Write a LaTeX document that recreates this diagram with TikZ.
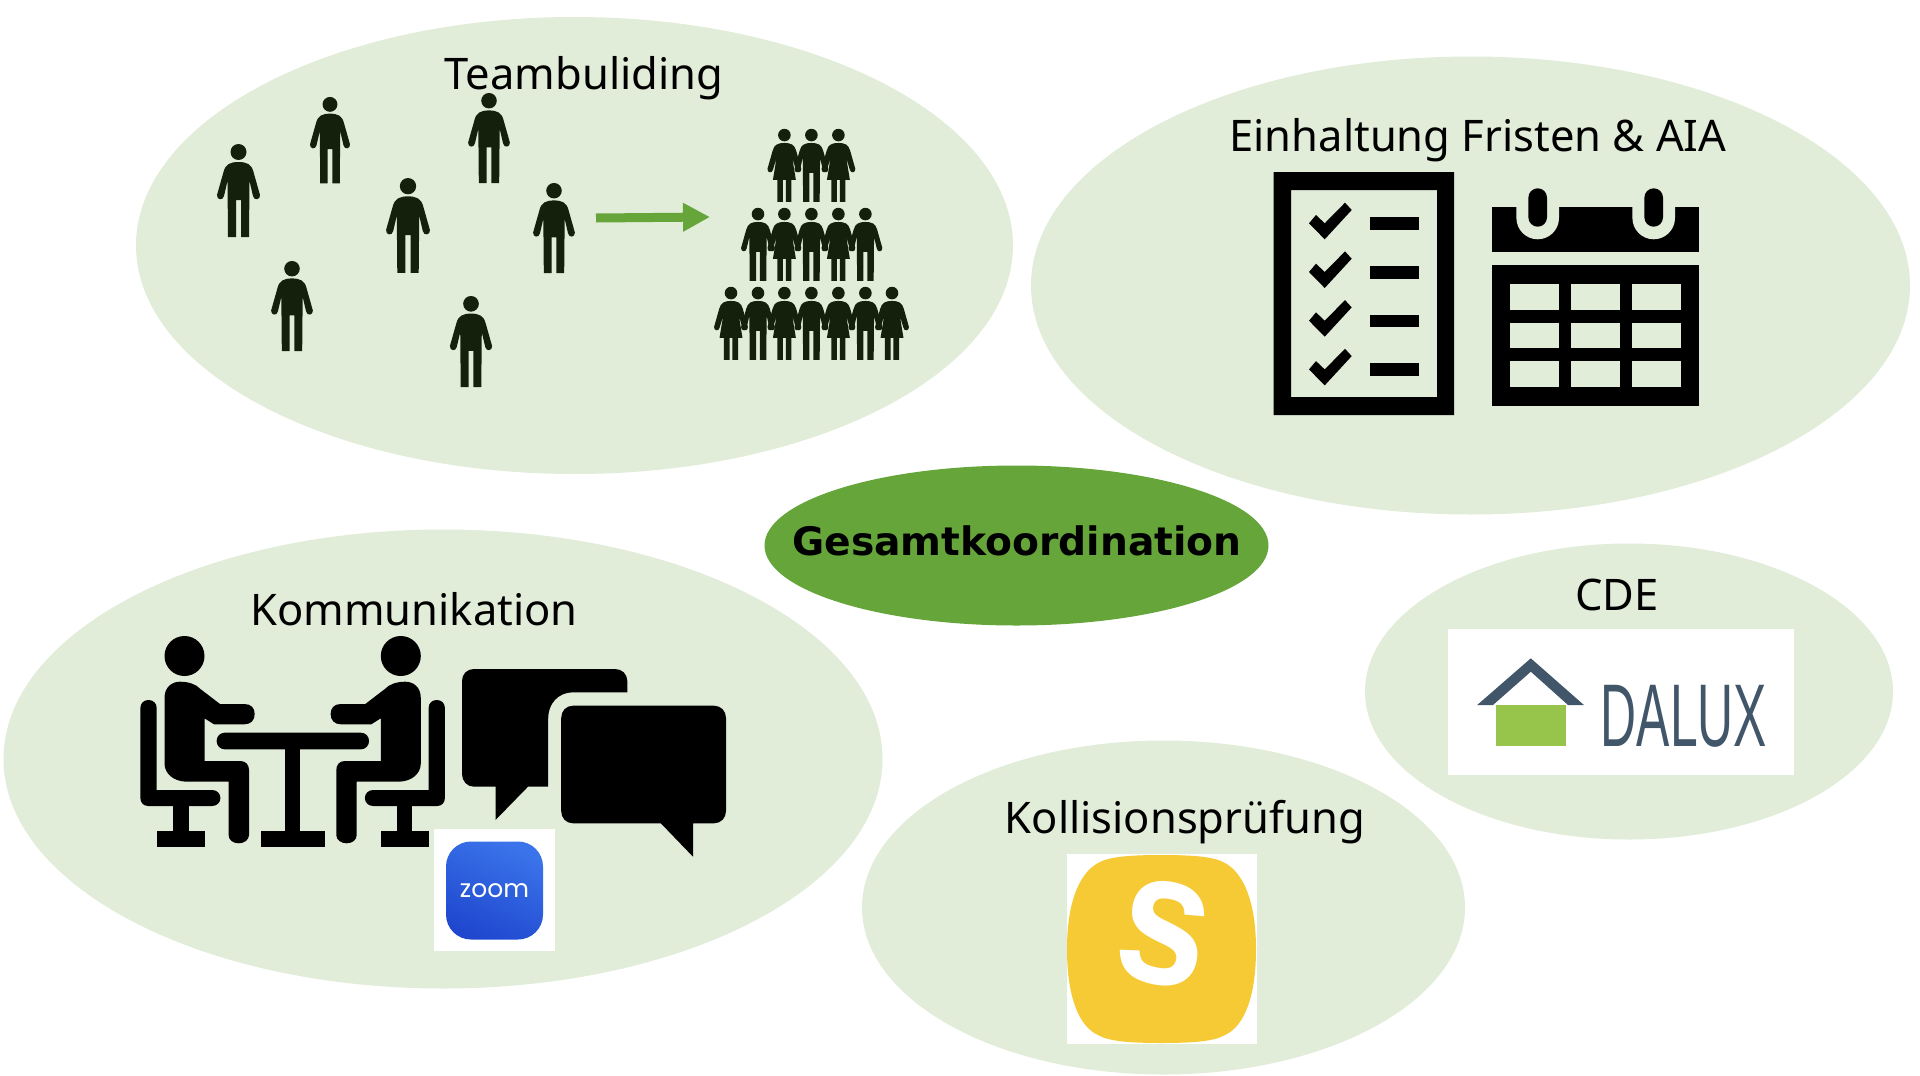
\documentclass[tikz,border=0pt]{standalone}
\usepackage{fontspec}
\usepackage{xcolor}
\setmainfont{Noto Sans}
\newfontfamily\headfont{DejaVu Sans}
\newfontfamily\logofont{Liberation Sans}
\newfontfamily\zoomfont{Poppins}
\usetikzlibrary{positioning, arrows.meta}
\usetikzlibrary{shapes, positioning}

\definecolor{blobgreen}{HTML}{E1ECD9}
\definecolor{coregreen}{HTML}{66A53A}
\definecolor{figdark}{HTML}{141F0C}
\definecolor{daluxblue}{HTML}{42566A}
\definecolor{daluxgreen}{HTML}{97C44A}
\definecolor{simplyellow}{HTML}{F6CA35}
\definecolor{zoomlight}{HTML}{3B74EA}
\definecolor{zoomdeep}{HTML}{1F48CF}

\tikzset{
    blob/.style={ellipse, fill=blobgreen, inner sep=0pt},
    topic/.style={anchor=base, text=black, font=\fontsize{43.5}{50}\selectfont},
    manfig/.pic={
        \fill[figdark] (0,9) circle (8);
        \fill[figdark] (0,19) .. controls (8,19) and (13,21) .. (15,29) -- (21.5,52)
            .. controls (22,57) and (15.5,58) .. (14.5,53) -- (11,38) -- (10.5,94) -- (2.5,94)
            -- (2.5,57) -- (-2.5,57) -- (-2.5,94) -- (-10.5,94) -- (-11,38) -- (-14.5,53)
            .. controls (-15.5,58) and (-22,57) .. (-21.5,52) -- (-15,29)
            .. controls (-13,21) and (-8,19) .. (0,19) -- cycle;
    },
    womanfig/.pic={
        \fill[figdark] (0,9) circle (8);
        \fill[figdark] (0,19) .. controls (8,19) and (13,21) .. (15,29) -- (21.5,52)
            .. controls (22,57) and (15.5,58) .. (14.5,53) -- (10,38) -- (14.6,66) -- (9,66) -- (9,94)
            -- (1.8,94) -- (1.8,66) -- (-1.8,66) -- (-1.8,94) -- (-9,94) -- (-9,66) -- (-14.6,66)
            -- (-10,38) -- (-14.5,53) .. controls (-15.5,58) and (-22,57) .. (-21.5,52) -- (-15,29)
            .. controls (-13,21) and (-8,19) .. (0,19) -- cycle;
    },
    sitter/.pic={
        \fill[black] (184.5,656) circle (20);
        \fill[black] (164.5,698) .. controls (164.5,687) and (172,681.7) .. (180,681.7)
            .. controls (188,681.7) and (196,684) .. (200.4,689) -- (220,704) -- (244.5,704)
            .. controls (251,704) and (254.7,708) .. (254.7,714) .. controls (254.7,720) and (251,724.3) .. (244.5,724.3)
            -- (214,724.3) -- (204.5,718.3) -- (204.5,761) -- (240.4,761)
            .. controls (246,761) and (249,765) .. (249,770) -- (249,835)
            .. controls (249,840) and (244,843.3) .. (238.8,843.3) .. controls (233,843.3) and (228.6,840) .. (228.6,835)
            -- (228.6,781.7) -- (187.3,781.7) .. controls (174,781.7) and (164.5,774) .. (164.5,763.3) -- cycle;
        \fill[black] (140.4,708) .. controls (140.4,703) and (144,700) .. (148.5,700)
            .. controls (153,700) and (156.7,703) .. (156.7,708) -- (156.7,790) -- (212,790)
            .. controls (217,790) and (220.4,793.5) .. (220.4,798) .. controls (220.4,802.5) and (217,806) .. (212,806)
            -- (148,806) .. controls (143,806) and (140.4,802) .. (140.4,798) -- cycle;
        \fill[black] (173,806) rectangle (188.6,830.7);
        \fill[black] (156.7,830.7) rectangle (204.5,846.7);
    }
}

\begin{document}
\begin{tikzpicture}[x=1pt, y=-1pt]
    \useasboundingbox (0,0) rectangle (1920,1076);

    \node[blob, minimum width=877pt, minimum height=457pt] (teamblob) at (574.5,245.5) {};
    \node[blob, minimum width=879pt, minimum height=458pt] (fristblob) at (1470.5,285.5) {};
    \node[blob, minimum width=879pt, minimum height=459pt] (kommblob) at (443,759) {};
    \node[blob, minimum width=528pt, minimum height=296pt] (cdeblob) at (1629,691.5) {};
    \node[blob, minimum width=603pt, minimum height=334pt] (kollblob) at (1163.5,907.5) {};
    \node[ellipse, fill=coregreen, inner sep=0pt, minimum width=504pt, minimum height=160pt] (coreblob) at (1016.5,545.5) {};

    \node[topic] (teamlabel) at (584,89.5) {Teambuliding};
    \node[topic] (fristlabel) at (1478,151.7) {Einhaltung Fristen \& AIA};
    \node[topic] (kommlabel) at (414,625.7) {Kommunikation};
    \node[topic] (cdelabel) at (1617,610) {CDE};
    \node[topic] (kolllabel) at (1185,833) {Kollisionsprüfung};
    \node[text=black, font=\headfont\bfseries\fontsize{39.2}{44}\selectfont] (corelabel) at (1017,541) {Gesamtkoordination};

    % scattered people
    \foreach \px/\py/\ps in {238.5/143/1, 330/96/.93, 489/92/.97, 408/177/1.02, 554/182/.97, 292/260/.97, 471/295/.98}
        \pic[scale=\ps] at (\px,\py) {manfig};

    \coordinate (arrowstart) at (596,218);
    \coordinate (arrowend) at (710,217);
    \draw[coregreen, line width=9pt, -{Triangle[length=27pt, width=27pt]}] (arrowstart) -- (arrowend);

    % pyramid of people
    \foreach \px in {811.4}
        \pic[scale=.787] at (\px,128) {manfig};
    \foreach \px in {784.4, 838.4}
        \pic[scale=.787] at (\px,128) {womanfig};
    \foreach \px in {758, 811.4, 865.4}
        \pic[scale=.787] at (\px,207) {manfig};
    \foreach \px in {784.4, 838.4}
        \pic[scale=.787] at (\px,207) {womanfig};
    \foreach \px in {758, 811.4, 865.4}
        \pic[scale=.787] at (\px,286) {manfig};
    \foreach \px in {731, 784.4, 838.4, 892}
        \pic[scale=.787] at (\px,286) {womanfig};

    % checklist
    \fill[black, even odd rule] (1273.7,172) rectangle (1454,415) (1291,190) rectangle (1437,397);
    \foreach \dy in {0, 48.7, 97.4, 146.1} {
        \fill[black] (1309,223.3+\dy) -- (1316,215+\dy) -- (1324.7,223.3+\dy) -- (1345,202.7+\dy)
            -- (1351.7,210+\dy) -- (1324.7,239.3+\dy) -- cycle;
        \fill[black] (1369.7,217.3+\dy) rectangle (1419.3,230+\dy);
    }

    % calendar
    \fill[black] (1491.7,207.3) rectangle (1699.3,252.3);
    \foreach \cx in {1537.7, 1653.7} {
        \fill[blobgreen] (\cx-21.3,200) -- (\cx-21.3,218) arc (180:0:21.3) -- (\cx+21.3,200) -- cycle;
        \fill[black, rounded corners=9.3pt] (\cx-9.3,188.3) rectangle (\cx+9.3,226.7);
    }
    \fill[black] (1491.7,265.3) rectangle (1699.3,405.7);
    \foreach \cx in {1510, 1571, 1632.3}
        \foreach \cy in {284.3, 322.7, 361}
            \fill[blobgreen] (\cx,\cy) rectangle (\cx+49,\cy+25.7);

    % meeting
    \pic at (0,0) {sitter};
    \pic[xscale=-1] at (585.3,0) {sitter};
    \fill[black, rounded corners=8pt] (216.7,732.7) rectangle (369,749.3);
    \fill[black] (285,749) rectangle (300.4,831);
    \fill[black] (260.8,830.7) rectangle (325,846.7);

    % speech bubbles
    \fill[black] (474,669) -- (615,669) .. controls (622,669) and (627.3,674) .. (627.3,681) -- (627.3,692.3) -- (573,692.3)
        .. controls (558,692.3) and (548.2,704) .. (548.2,718) -- (548.2,786.7) -- (528,786.7) -- (495.5,820) -- (495.5,786.7)
        -- (474,786.7) .. controls (467,786.7) and (462,781) .. (462,774) -- (462,681) .. controls (462,674) and (467,669) .. (474,669) -- cycle;
    \fill[black] (573,705.7) -- (714,705.7) .. controls (721,705.7) and (726,711) .. (726,718) -- (726,811)
        .. controls (726,818) and (721,823.3) .. (714,823.3) -- (693,823.3) -- (693,856.7) -- (660.8,823.3) -- (573,823.3)
        .. controls (566,823.3) and (561.2,818) .. (561.2,811) -- (561.2,718) .. controls (561.2,711) and (566,705.7) .. (573,705.7) -- cycle;

    % zoom logo
    \fill[white] (433.5,828.7) rectangle (555,951);
    \node[rectangle, rounded corners=25pt, top color=zoomlight, bottom color=zoomdeep, shading angle=-25, minimum width=97pt, minimum height=98pt, inner sep=0pt, text=white, font=\zoomfont\fontsize{25}{28}\selectfont] (zoomlogo) at (494.5,890.5) {zoom};

    % dalux logo
    \fill[white] (1448,629.3) rectangle (1793.6,775);
    \fill[daluxblue] (1530.8,658.3) -- (1583.9,705) -- (1568,705) -- (1530.8,671.7) -- (1493,705) -- (1477.2,705) -- cycle;
    \fill[daluxgreen] (1495.6,705) rectangle (1566,746.3);
    \node[anchor=base, xscale=.56, inner sep=0pt, text=daluxblue, font=\logofont\fontsize{89}{90}\selectfont] (daluxlogo) at (1684,746.3) {DALUX};

    % s logo
    \fill[white] (1066.5,854.3) rectangle (1256.8,1044);
    \fill[simplyellow] (1161.5,855) .. controls (1195,855) and (1215,857) .. (1225,863) .. controls (1245,874) and (1256,905) .. (1256,949)
        .. controls (1256,995) and (1245,1026) .. (1225,1035) .. controls (1215,1041) and (1195,1043) .. (1161.5,1043)
        .. controls (1128,1043) and (1108,1041) .. (1098,1035) .. controls (1078,1026) and (1067,995) .. (1067,949)
        .. controls (1067,905) and (1078,874) .. (1098,863) .. controls (1108,857) and (1128,855) .. (1161.5,855) -- cycle;
    \node[rotate=-12, xscale=.85, inner sep=0pt, text=white, font=\logofont\bfseries\fontsize{190}{190}\selectfont] (slogo) at (1164,934) {s};
\end{tikzpicture}
\end{document}
